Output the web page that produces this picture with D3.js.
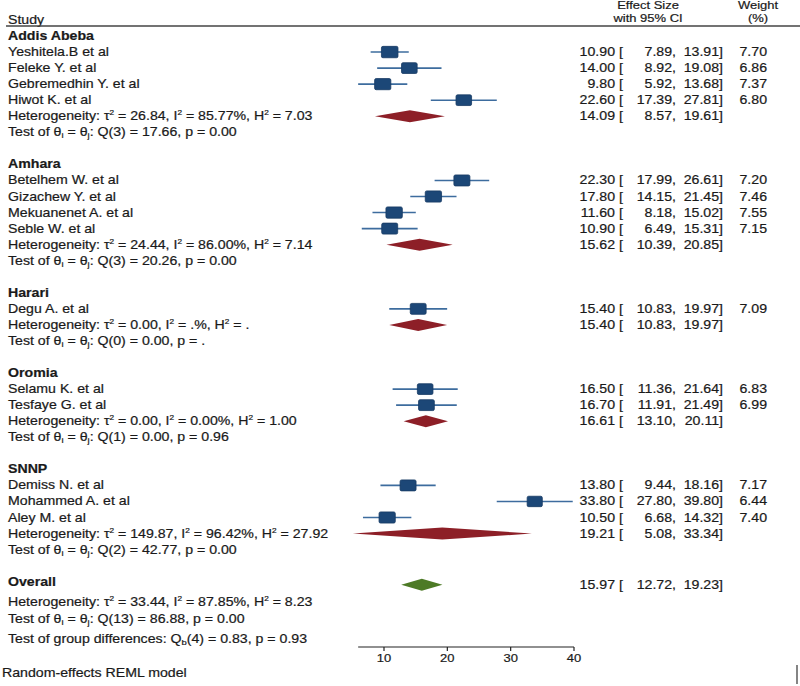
<!DOCTYPE html>
<html>
<head>
<meta charset="utf-8">
<script src="https://cdn.jsdelivr.net/npm/d3@7"></script>
<style>
  body { margin: 0; background: #fff; }
  text { font-family: "Liberation Sans", Arial, sans-serif; fill: #1a1a1a; stroke: #1a1a1a; stroke-width: 0.2; }
</style>
</head>
<body>
<svg id="chart" width="800" height="686"></svg>
<script>
const groupNames = ["Addis Abeba", "Amhara", "Harari", "Oromia", "SNNP"];
const studyNames = ["Yeshitela.B et al", "Feleke Y. et al", "Gebremedhin Y. et al", "Hiwot K. et al",
  "Betelhem W. et al", "Gizachew Y. et al", "Mekuanenet A. et al", "Seble W. et al",
  "Degu A. et al", "Selamu K. et al", "Tesfaye G. et al",
  "Demiss N. et al", "Mohammed A. et al", "Aley M. et al"];
const studyGroup = [0, 0, 0, 0, 1, 1, 1, 1, 2, 3, 3, 4, 4, 4];
const studyES = [10.90, 14.00, 9.80, 22.60, 22.30, 17.80, 11.60, 10.90, 15.40, 16.50, 16.70, 13.80, 33.80, 10.50];
const studyLo = [7.89, 8.92, 5.92, 17.39, 17.99, 14.15, 8.18, 6.49, 10.83, 11.36, 11.91, 9.44, 27.80, 6.68];
const studyHi = [13.91, 19.08, 13.68, 27.81, 26.61, 21.45, 15.02, 15.31, 19.97, 21.64, 21.49, 18.16, 39.80, 14.32];
const studyWeight = [7.70, 6.86, 7.37, 6.80, 7.20, 7.46, 7.55, 7.15, 7.09, 6.83, 6.99, 7.17, 6.44, 7.40];

const groupES = [14.09, 15.62, 15.40, 16.61, 19.21];
const groupLo = [8.57, 10.39, 10.83, 13.10, 5.08];
const groupHi = [19.61, 20.85, 19.97, 20.11, 33.34];
const groupTau2 = ["26.84", "24.44", "0.00", "0.00", "149.87"];
const groupI2 = ["85.77%", "86.00%", ".%", "0.00%", "96.42%"];
const groupH2 = ["7.03", "7.14", ".", "1.00", "27.92"];
const groupQdf = [3, 3, 0, 1, 2];
const groupQ = ["17.66", "20.26", "0.00", "0.00", "42.77"];
const groupP = ["0.00", "0.00", ".", "0.96", "0.00"];

const overallES = 15.97, overallLo = 12.72, overallHi = 19.23;
const overallTau2 = "33.44", overallI2 = "87.85%", overallH2 = "8.23";
const overallQdf = 13, overallQ = "86.88", overallP = "0.00";
const groupDiffDf = 4, groupDiffQ = "0.83", groupDiffP = "0.93";

const xTicks = [10, 20, 30, 40];

// ---- layout ----
const svg = d3.select("#chart");
const fs = 12;
const SX = 1.18; // the reference type is stretched horizontally
const x = d3.scaleLinear().domain([10, 40]).range([384, 574]);
const row = d3.scaleLinear().domain([0, 1]).range([36, 52.05]);
const f2 = d3.format(".2f");

function txt(px, py, anchor, size) {
  return svg.append("text")
    .attr("transform", `translate(${px},${py}) scale(${SX},1)`)
    .attr("text-anchor", anchor || "start")
    .attr("font-size", size || fs);
}

// build rows
const rows = [];
let r = 0;
groupNames.forEach((g, gi) => {
  rows.push({ type: "group", label: g, r: r++ });
  studyNames.forEach((s, i) => {
    if (studyGroup[i] === gi) rows.push({ type: "study", i, r: r++ });
  });
  rows.push({ type: "het", gi, r: r++ });
  rows.push({ type: "test", gi, r: r++ });
  r++;
});
rows.push({ type: "overall", r: r });
rows.push({ type: "ohet", r: r + 1.25 });
rows.push({ type: "otest", r: r + 2.3 });
rows.push({ type: "gdiff", r: r + 3.6 });

function hetText(sel, tau2, i2, h2) {
  sel.append("tspan").text("Heterogeneity: τ");
  sel.append("tspan").attr("font-size", 7).attr("dy", -5).text("2");
  sel.append("tspan").attr("dy", 5).text(" = " + tau2 + ", I");
  sel.append("tspan").attr("font-size", 7).attr("dy", -5).text("2");
  sel.append("tspan").attr("dy", 5).text(" = " + i2 + ", H");
  sel.append("tspan").attr("font-size", 7).attr("dy", -5).text("2");
  sel.append("tspan").attr("dy", 5).text(" = " + h2);
}
function testText(sel, df, q, p) {
  sel.append("tspan").text("Test of θ");
  sel.append("tspan").attr("font-size", 8).attr("dy", 2).text("i");
  sel.append("tspan").attr("dy", -2).text(" = θ");
  sel.append("tspan").attr("font-size", 8).attr("dy", 2).text("j");
  sel.append("tspan").attr("dy", -2).text(": Q(" + df + ") = " + q + ", p = " + p);
}
function ciText(yy, es, lo, hi, w) {
  txt(615, yy, "end").text(f2(es));
  txt(619, yy).text("[");
  txt(676, yy, "end").text(f2(lo) + ",");
  txt(723, yy, "end").text(f2(hi) + "]");
  if (w != null) txt(767, yy, "end").text(f2(w));
}
function diamond(yy, es, lo, hi, color) {
  const h = 6;
  svg.append("path")
    .attr("d", `M${x(lo)},${yy}L${x(es)},${yy - h}L${x(hi)},${yy}L${x(es)},${yy + h}Z`)
    .attr("fill", color);
}

// header
txt(8, 24).text("Study");
txt(648, 9, "middle", 11).text("Effect Size");
txt(648, 22, "middle", 11).text("with 95% CI");
txt(758, 9, "middle", 11).text("Weight");
txt(758, 22, "middle", 11).text("(%)");
svg.append("line").attr("x1", 6).attr("x2", 800).attr("y1", 26).attr("y2", 26)
  .attr("stroke", "#444").attr("stroke-width", 1.5);

const base = 4; // text baseline offset from row centre

rows.forEach(d => {
  const yy = row(d.r);
  if (d.type === "group") {
    txt(8, yy + base).attr("font-weight", "bold").text(d.label);
  } else if (d.type === "study") {
    const i = d.i;
    txt(8, yy + base).text(studyNames[i]);
    svg.append("line").attr("x1", x(studyLo[i])).attr("x2", x(studyHi[i]))
      .attr("y1", yy).attr("y2", yy).attr("stroke", "#3d6c9e").attr("stroke-width", 1.6);
    const k = Math.sqrt(studyWeight[i] / 7.2);
    const w = 16 * k, h = 11 * k;
    svg.append("rect").attr("x", x(studyES[i]) - w / 2).attr("y", yy - h / 2)
      .attr("width", w).attr("height", h).attr("rx", 1.5)
      .attr("fill", "#1c4777").attr("stroke", "#163a63").attr("stroke-width", 0.8);
    ciText(yy + base, studyES[i], studyLo[i], studyHi[i], studyWeight[i]);
  } else if (d.type === "het") {
    const gi = d.gi;
    hetText(txt(8, yy + base), groupTau2[gi], groupI2[gi], groupH2[gi]);
    diamond(yy, groupES[gi], groupLo[gi], groupHi[gi], "#8d1f27");
    ciText(yy + base, groupES[gi], groupLo[gi], groupHi[gi], null);
  } else if (d.type === "test") {
    testText(txt(8, yy + base), groupQdf[d.gi], groupQ[d.gi], groupP[d.gi]);
  } else if (d.type === "overall") {
    txt(8, yy + base).attr("font-weight", "bold").text("Overall");
    diamond(yy + 3, overallES, overallLo, overallHi, "#4d7a26");
    ciText(yy + base + 3, overallES, overallLo, overallHi, null);
  } else if (d.type === "ohet") {
    hetText(txt(8, yy + base), overallTau2, overallI2, overallH2);
  } else if (d.type === "otest") {
    testText(txt(8, yy + base), overallQdf, overallQ, overallP);
  } else if (d.type === "gdiff") {
    const t = txt(8, yy + base);
    t.append("tspan").text("Test of group differences: Q");
    t.append("tspan").attr("font-size", 8).attr("dy", 2).text("b");
    t.append("tspan").attr("dy", -2).text("(" + groupDiffDf + ") = " + groupDiffQ + ", p = " + groupDiffP);
  }
});

// axis
const axisY = 647;
const axisMin = d3.min(studyLo);
const ax = svg.append("g").attr("transform", `translate(0,${axisY})`);
ax.append("line").attr("x1", x(axisMin)).attr("x2", x(40)).attr("stroke", "#222").attr("stroke-width", 1.2);
ax.selectAll(".tick").data(xTicks).join("line")
  .attr("x1", d => x(d)).attr("x2", d => x(d)).attr("y1", 0).attr("y2", 4)
  .attr("stroke", "#222").attr("stroke-width", 1.2);
xTicks.forEach(t => txt(x(t), axisY + 15, "middle", fs - 1).text(t));

txt(2, 677).text("Random-effects REML model");
svg.append("line").attr("x1", 797).attr("x2", 797).attr("y1", 665).attr("y2", 684)
  .attr("stroke", "#333").attr("stroke-width", 1.2);
</script>
</body>
</html>
